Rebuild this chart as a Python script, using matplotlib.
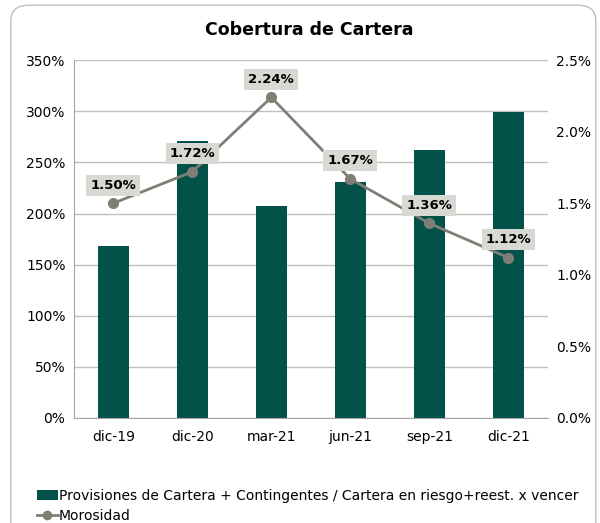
import matplotlib.pyplot as plt
from matplotlib.patches import FancyBboxPatch
from matplotlib.lines import Line2D
from matplotlib.patches import Patch
from matplotlib.ticker import FuncFormatter

periodos = ['dic-19', 'dic-20', 'mar-21', 'jun-21', 'sep-21', 'dic-21']
cobertura = [168, 271, 207, 231, 262, 299]
morosidad = [1.50, 1.72, 2.24, 1.67, 1.36, 1.12]

verde = '#02524A'
gris = '#7F7F76'

plt.rcParams['font.family'] = ['DejaVu Sans']
fig = plt.figure(figsize=(6.0, 5.23), dpi=100)

# rounded frame around the chart
frame = FancyBboxPatch((0.018, -0.05), 0.975, 1.04, boxstyle='round,pad=0,rounding_size=0.03',
                       transform=fig.transFigure, facecolor='white', edgecolor='#BFBFBF',
                       linewidth=1, zorder=-1)
fig.patches.append(frame)

ax = fig.add_axes([0.123, 0.2008, 0.79, 0.6842])
ax.patch.set_visible(False)
x = range(len(periodos))
ax.bar(x, cobertura, width=0.4, color=verde, zorder=2)
ax.set_ylim(0, 350)
ax.set_xlim(-0.5, 5.5)
ax.set_yticks(range(0, 351, 50))
ax.yaxis.set_major_formatter(FuncFormatter(lambda v, p: f'{v:.0f}%'))
ax.set_xticks(list(x))
ax.set_xticklabels(periodos)
ax.grid(axis='y', color='#BFBFBF', linewidth=1, zorder=0)
ax.set_axisbelow(True)
for s in ['top', 'right']:
    ax.spines[s].set_visible(False)
for s in ['left', 'bottom']:
    ax.spines[s].set_color('#A6A6A6')
ax.tick_params(length=0, labelsize=10, pad=9)
ax.tick_params(axis='y', pad=6)

ax2 = ax.twinx()
ax2.patch.set_visible(False)
ax2.plot(list(x), morosidad, color=gris, linewidth=2, marker='o', markersize=7, zorder=3)
ax2.set_ylim(0, 2.5)
ax2.set_yticks([0, 0.5, 1.0, 1.5, 2.0, 2.5])
ax2.yaxis.set_major_formatter(FuncFormatter(lambda v, p: f'{v:.1f}%'))
for s in ax2.spines.values():
    s.set_visible(False)
ax2.tick_params(length=0, labelsize=10, pad=6)
for xi, v in zip(x, morosidad):
    ax2.annotate(f'{v:.2f}%', (xi, v), xytext=(0, 13), textcoords='offset points',
                 ha='center', va='center', fontsize=9.5, fontweight='bold',
                 bbox=dict(boxstyle='square,pad=0.3', facecolor='#D9D9D4', edgecolor='none'))

fig.text(0.515, 0.942, 'Cobertura de Cartera', ha='center', va='center',
         fontsize=12.5, fontweight='bold')

handles = [Patch(facecolor=verde, edgecolor='none'),
           Line2D([0], [0], color=gris, linewidth=2, marker='o', markersize=6)]
labels = ['Provisiones de Cartera + Contingentes / Cartera en riesgo+reest. x vencer', 'Morosidad']
fig.legend(handles, labels, loc='lower left', bbox_to_anchor=(0.045, -0.018), frameon=False,
           fontsize=10, handlelength=1.5, handletextpad=0.1, labelspacing=0.4, borderpad=0.2)

fig.savefig('out.png', dpi=100)
